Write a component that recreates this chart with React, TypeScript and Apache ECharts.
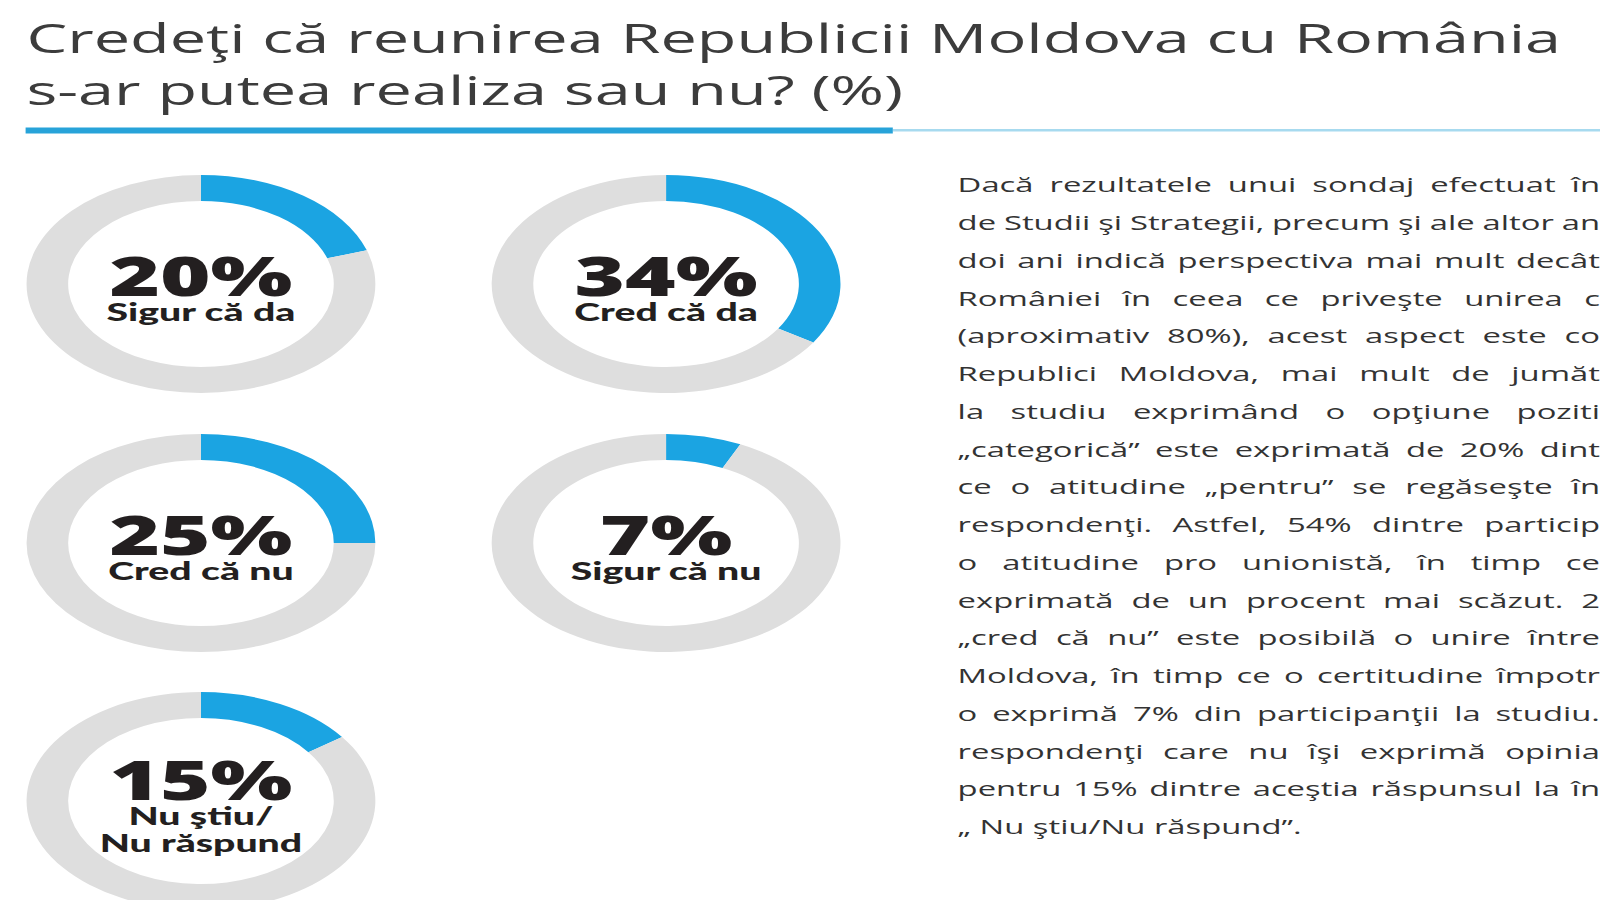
import React, { useEffect, useRef } from "react";
import * as echarts from "echarts";

// ---- data ----
const TITLE_LINES = [
  "Credeţi că reunirea Republicii Moldova cu România",
  "s-ar putea realiza sau nu? (%)",
];
const CATEGORIES = [
  "Sigur că da",
  "Cred că da",
  "Cred că nu",
  "Sigur că nu",
  "Nu ştiu/\nNu răspund",
];
const VALUES = [20, 34, 25, 7, 15];
const PARAGRAPH_LINES = [
  "Dacă rezultatele unui sondaj efectuat în",
  "de Studii şi Strategii, precum şi ale altor an",
  "doi ani indică perspectiva mai mult decât",
  "României în ceea ce priveşte unirea c",
  "(aproximativ 80%), acest aspect este co",
  "Republici Moldova, mai mult de jumăt",
  "la studiu exprimând o opţiune poziti",
  "„categorică” este exprimată de 20% dint",
  "ce o atitudine  „pentru” se regăseşte în",
  "respondenţi. Astfel, 54% dintre particip",
  "o atitudine pro unionistă, în timp ce",
  "exprimată de un procent mai scăzut. 2",
  "„cred că nu” este posibilă o unire între",
  "Moldova, în timp ce o certitudine împotr",
  "o exprimă 7% din participanţii la studiu.",
  "respondenţi care nu îşi exprimă opinia",
  "pentru 15% dintre aceştia răspunsul la în",
  "„ Nu ştiu/Nu răspund”.",
];

// ---- layout (unscaled coordinates, stretched horizontally by SCALE_X) ----
const SCALE_X = 1.6;
const BASE_W = 1000;
const BASE_H = 900;
const COL_X = [125.6, 416.3];
const ROW_Y = [284, 543, 801];
const R_IN = 83;
const R_OUT = 109;
const BLUE = "#1ba4e2";
const GRAY = "#dedede";
const DARK = "#231f20";
const TITLE_FS = 40.5;
const PARA_FS = 20.5;
const PARA_X = 598.5;
const PARA_RIGHT = 1000;
const PARA_BASE0 = 192;
const PARA_STEP = 37.75;

function buildParagraph(): any[] {
  const canvas = document.createElement("canvas");
  const ctx = canvas.getContext("2d") as CanvasRenderingContext2D;
  const font = `400 ${PARA_FS}px "Open Sans"`;
  ctx.font = font;
  const spaceW = ctx.measureText(" ").width;
  const els: any[] = [];
  PARAGRAPH_LINES.forEach((line, li) => {
    const y = PARA_BASE0 + li * PARA_STEP - 0.36 * PARA_FS;
    const words = line.split(/\s+/).filter((w) => w.length > 0);
    const last = li === PARAGRAPH_LINES.length - 1;
    const widths = words.map((w) => ctx.measureText(w).width);
    const sum = widths.reduce((a, b) => a + b, 0);
    let gap = spaceW;
    if (!last && words.length > 1) {
      gap = Math.max(spaceW * 0.8, (PARA_RIGHT - PARA_X - sum) / (words.length - 1));
    }
    let x = PARA_X;
    words.forEach((w, wi) => {
      els.push({
        type: "text",
        x,
        y,
        silent: true,
        style: {
          text: w,
          font,
          fill: "#333333",
          align: "left",
          verticalAlign: "middle",
        },
      });
      x += widths[wi] + gap;
    });
  });
  return els;
}

export default function App() {
  const ref = useRef<HTMLDivElement>(null);

  useEffect(() => {
    document.body.style.margin = "0";
    if (!ref.current) return;
    const chart = echarts.init(ref.current, undefined, { renderer: "svg" });

    const graphic: any[] = [
      ...TITLE_LINES.map((t, i) => ({
        type: "text",
        x: 16.5,
        y: [52, 103.5][i] - 0.36 * TITLE_FS,
        silent: true,
        style: {
          text: t,
          font: `400 ${TITLE_FS}px "Open Sans"`,
          fill: "#3c3c3c",
          align: "left",
          verticalAlign: "middle",
        },
      })),
      {
        type: "line",
        silent: true,
        shape: { x1: 558, y1: 130.2, x2: BASE_W, y2: 130.2 },
        style: { stroke: "#a7daef", lineWidth: 2.5 },
      },
      {
        type: "line",
        silent: true,
        shape: { x1: 16, y1: 130.5, x2: 558, y2: 130.5 },
        style: { stroke: "#27a3d9", lineWidth: 6 },
      },
      ...buildParagraph(),
    ];

    const series = VALUES.map((v, i) => ({
      type: "pie",
      center: [COL_X[i % 2], ROW_Y[Math.floor(i / 2)]],
      radius: [R_IN, R_OUT],
      startAngle: 90,
      clockwise: true,
      silent: true,
      avoidLabelOverlap: false,
      label: { show: false },
      labelLine: { show: false },
      emphasis: { disabled: true },
      data: [
        {
          value: v,
          name: CATEGORIES[i],
          itemStyle: { color: BLUE },
          label: {
            show: true,
            position: "center",
            padding: [10, 0, 0, 0],
            formatter: (p: any) => `{v|${p.value}%}\n{n|${p.name}}`,
            rich: {
              v: {
                fontFamily: "Open Sans",
                fontWeight: 800,
                fontSize: 54,
                lineHeight: 46,
                color: DARK,
                align: "center",
              },
              n: {
                fontFamily: "Lato",
                fontWeight: 900,
                fontSize: 24.5,
                lineHeight: 27,
                color: DARK,
                align: "center",
              },
            },
          },
        },
        {
          value: 100 - v,
          name: "rest",
          itemStyle: { color: GRAY },
          label: { show: false },
        },
      ],
    }));

    chart.setOption({
      animation: false,
      backgroundColor: "#ffffff",
      graphic,
      series,
    });

    return () => chart.dispose();
  }, []);

  return (
    <div
      style={{
        width: 1600,
        height: 900,
        overflow: "hidden",
        position: "relative",
        background: "#fff",
      }}
    >
      <div
        ref={ref}
        style={{
          width: BASE_W,
          height: BASE_H,
          transform: `scaleX(${SCALE_X})`,
          transformOrigin: "0 0",
        }}
      />
    </div>
  );
}
